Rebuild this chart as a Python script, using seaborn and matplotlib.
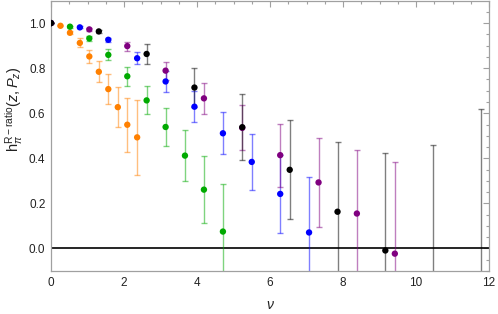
import matplotlib
matplotlib.use("Agg")
import matplotlib.pyplot as plt
import seaborn as sns
import numpy as np
import pandas as pd
from matplotlib.ticker import MultipleLocator

# ---- data ----
orange_x = [0.0, 0.26, 0.52, 0.79, 1.05, 1.31, 1.57, 1.83, 2.09, 2.36]
orange_y = [1.0, 0.988, 0.957, 0.912, 0.852, 0.784, 0.707, 0.627, 0.549, 0.493]
orange_e = [0.0, 0.003, 0.006, 0.02, 0.03, 0.047, 0.065, 0.09, 0.12, 0.166]

green_x = [0.0, 0.52, 1.05, 1.57, 2.09, 2.62, 3.14, 3.67, 4.19, 4.71]
green_y = [1.0, 0.984, 0.932, 0.859, 0.764, 0.657, 0.539, 0.412, 0.261, 0.075]
green_e = [0.0, 0.004, 0.01, 0.025, 0.043, 0.062, 0.085, 0.114, 0.15, 0.213]

blue_x = [0.0, 0.79, 1.57, 2.36, 3.14, 3.93, 4.71, 5.50, 6.28, 7.07]
blue_y = [1.0, 0.981, 0.926, 0.844, 0.741, 0.629, 0.511, 0.384, 0.242, 0.071]
blue_e = [0.0, 0.005, 0.01, 0.027, 0.048, 0.069, 0.094, 0.125, 0.172, 0.245]

purple_x = [0.0, 1.05, 2.09, 3.14, 4.19, 5.24, 6.28, 7.33, 8.38, 9.42]
purple_y = [1.0, 0.972, 0.898, 0.789, 0.666, 0.535, 0.414, 0.293, 0.155, -0.023]
purple_e = [0.0, 0.006, 0.02, 0.04, 0.068, 0.1, 0.14, 0.197, 0.28, 0.405]

black_x = [0.0, 1.31, 2.62, 3.93, 5.24, 6.54, 7.85, 9.16, 10.47, 11.78]
black_y = [1.0, 0.963, 0.863, 0.714, 0.538, 0.349, 0.163, -0.009, -0.13, -0.18]
black_e = [0.0, 0.008, 0.043, 0.087, 0.146, 0.22, 0.311, 0.433, 0.59, 0.8]

series_names = ["orange", "green", "blue", "purple", "black"]
series_colors = ["#FF8000", "#00AA00", "#0000FF", "#800080", "#000000"]

frames = []
for name, xs, ys, es in zip(series_names,
                            [orange_x, green_x, blue_x, purple_x, black_x],
                            [orange_y, green_y, blue_y, purple_y, black_y],
                            [orange_e, green_e, blue_e, purple_e, black_e]):
    frames.append(pd.DataFrame({"nu": xs, "h": ys, "err": es, "series": name}))
df = pd.concat(frames, ignore_index=True)

# ---- figure ----
sns.set_theme(style="white")
plt.rcParams['font.family'] = ['Liberation Sans', 'DejaVu Sans']
plt.rcParams['mathtext.fontset'] = 'custom'
plt.rcParams['mathtext.rm'] = 'Liberation Sans'
plt.rcParams['mathtext.it'] = 'Liberation Sans:italic'
fig = plt.figure(figsize=(4.98, 3.14), dpi=100)
ax = fig.add_axes([51 / 498, 43 / 314, 438 / 498, 270 / 314])

for name, col in zip(series_names, series_colors):
    sub = df[df["series"] == name]
    ax.errorbar(sub["nu"], sub["h"], yerr=sub["err"], fmt="none",
                ecolor=col, alpha=0.5, elinewidth=1.0, capsize=2.2,
                capthick=1.0, zorder=2)

palette = dict(zip(series_names, series_colors))
sns.scatterplot(data=df, x="nu", y="h", hue="series", palette=palette,
                hue_order=series_names, s=21, linewidth=0, legend=False,
                ax=ax, zorder=3)

ax.axhline(0, color="black", lw=1.2, zorder=1)

ax.set_xlim(0, 12)
ax.set_ylim(-0.1, 1.098)
ax.xaxis.set_minor_locator(MultipleLocator(0.5))
ax.yaxis.set_minor_locator(MultipleLocator(0.05))
ax.set_xticks([0, 2, 4, 6, 8, 10, 12])
ax.set_xticklabels(["0", "2", "4", "6", "8", "10", "12"])
ax.set_yticks([0.0, 0.2, 0.4, 0.6, 0.8, 1.0])
ax.set_yticklabels(["0.0", "0.2", "0.4", "0.6", "0.8", "1.0"])

for sp in ax.spines.values():
    sp.set_color("#A0A0A0")
    sp.set_linewidth(0.9)
ax.tick_params(which="both", direction="in", top=True, right=True,
               color="#A0A0A0", width=0.8)
ax.tick_params(which="major", length=4, labelsize=8.5, labelcolor="#222222", pad=4)
ax.tick_params(which="minor", length=2)

ax.set_xlabel(r"$\nu$", fontsize=10, color="#222222", labelpad=7)
ax.set_ylabel(r"$\mathrm{h}_{\pi}^{\mathrm{R-ratio}}(z,P_z)$", fontsize=10.5,
              color="#222222", labelpad=2)
ax.yaxis.set_label_coords(-0.06, 0.6)

fig.savefig("out.png", dpi=100)
